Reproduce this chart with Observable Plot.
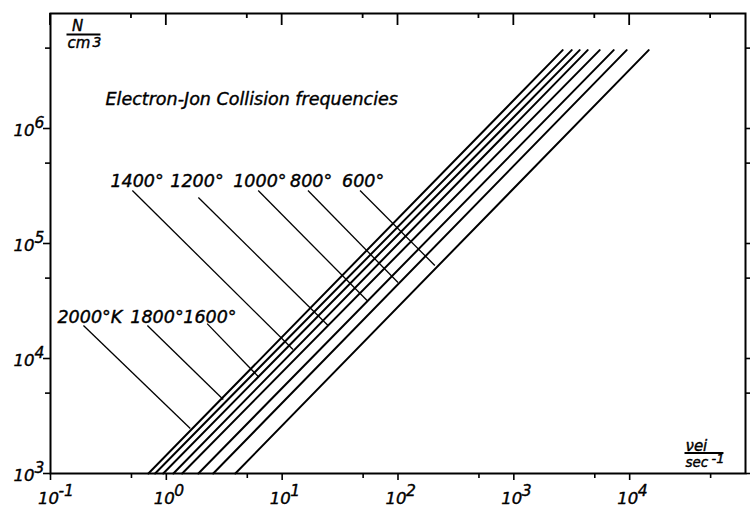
<!DOCTYPE html>
<html><head><meta charset="utf-8">
<script src="https://cdn.jsdelivr.net/npm/d3@7"></script>
<script src="https://cdn.jsdelivr.net/npm/@observablehq/plot@0.6"></script>
<style>
html,body{margin:0;padding:0;background:#fff;}
</style></head><body><div id="chart"></div>
<script>
// ---- data ----
const temperatures = ["2000°K", "1800°", "1600°", "1400°", "1200°", "1000°", "800°", "600°"];
const nLow = 1e3;       // N (cm^-3) where the lines start
const nHigh = 4.8e6;    // N (cm^-3) where the lines end
const nuAtNLow  = [0.70, 0.80, 0.94, 1.15, 1.37, 1.89, 2.54, 3.94];       // ν_ei (s^-1) at N = nLow
const nuAtNHigh = [2640, 3160, 3700, 4340, 5510, 7280, 9420, 14600];     // ν_ei (s^-1) at N = nHigh
// label anchors (ν, N) and leader lines (ν, N) -> (ν, N)
const labelNu = [0.1149, 0.489, 1.40, 0.329, 1.083, 3.78, 11.7, 32.9];
const labelN  = [20560, 20560, 20560, 307000, 307000, 307000, 307000, 307000];
const leaderNu1 = [0.1925, 0.686, 2.25, 0.509, 1.89, 6.21, 16.7, 47.0];
const leaderN1  = [19360, 19360, 20100, 289000, 251000, 289000, 289000, 289000];
const leaderNu2 = [1.61, 3.10, 6.21, 12.4, 24.9, 54.1, 100, 208];
const leaderN2  = [2460, 4400, 6970, 11970, 19360, 31900, 45800, 64400];
const xExponents = [-1, 0, 1, 2, 3, 4];
const yExponents = [3, 4, 5, 6];
const xMinorTicks = [0.5, 5, 50, 500, 5000, 50000];
const yMinorTicks = [5e3, 5e4, 5e5, 5e6];
const title = "Electron-Jon Collision frequencies";

// ---- tables built from the arrays ----
const lineRows = temperatures.flatMap((t, i) => [
  {t, nu: nuAtNLow[i], n: nLow},
  {t, nu: nuAtNHigh[i], n: nHigh}
]);
const leaders = temperatures.map((t, i) => ({t, nu1: leaderNu1[i], n1: leaderN1[i], nu2: leaderNu2[i], n2: leaderN2[i]}));
const labels = temperatures.map((t, i) => ({t, nu: labelNu[i], n: labelN[i]}));
const xMajor = xExponents.map(e => 10 ** e);
const yMajor = yExponents.map(e => 10 ** e);

const noText = {fill: "none", label: null};
const ink = {fill: "black", stroke: "black", strokeWidth: 0.4};
const font = "'DejaVu Sans', sans-serif";

const W = 750, H = 506, mT = 13, mB = 33, mL = 50, mR = 5;

const chart = Plot.plot({
  width: W,
  height: H,
  marginLeft: mL,
  marginRight: mR,
  marginTop: mT,
  marginBottom: mB,
  style: {fontFamily: font, fontStyle: "italic", background: "white", color: "black", overflow: "visible"},
  x: {type: "log", domain: [0.1, 1e5]},
  y: {type: "log", domain: [1e3, 1e7]},
  marks: [
    Plot.frame({strokeWidth: 2}),
    Plot.axisX(xMajor, {anchor: "bottom", tickSize: 7, strokeWidth: 1.6, ...noText}),
    Plot.axisX(xMinorTicks, {anchor: "bottom", tickSize: 5, strokeWidth: 1.6, ...noText}),
    Plot.axisY(yMajor, {anchor: "left", tickSize: 7, strokeWidth: 1.6, ...noText}),
    Plot.axisY(yMinorTicks, {anchor: "left", tickSize: 5, strokeWidth: 1.6, ...noText}),
    Plot.axisY([...yMajor, ...yMinorTicks], {anchor: "right", tickSize: 5, strokeWidth: 1.6, ...noText}),
    // tick labels 10^n
    Plot.text(xMajor, {x: d => d, frameAnchor: "bottom", text: () => "10", dx: -2, dy: 30, lineAnchor: "bottom", fontSize: 16.5, ...ink}),
    Plot.text(xExponents, {x: e => 10 ** e, frameAnchor: "bottom", text: e => String(e), textAnchor: "start", dx: 8, dy: 22, lineAnchor: "bottom", fontSize: 15.5, ...ink}),
    Plot.text(yMajor, {y: d => d, frameAnchor: "left", text: () => "10", textAnchor: "end", dx: -16, dy: 7, lineAnchor: "bottom", fontSize: 16.5, ...ink}),
    Plot.text(yExponents, {y: e => 10 ** e, frameAnchor: "left", text: e => String(e), textAnchor: "start", dx: -16, dy: -1, lineAnchor: "bottom", fontSize: 15.5, ...ink}),
    // curves
    Plot.line(lineRows, {x: "nu", y: "n", z: "t", strokeWidth: 2}),
    Plot.link(leaders, {x1: "nu1", y1: "n1", x2: "nu2", y2: "n2", strokeWidth: 1.3}),
    Plot.text(labels, {x: "nu", y: "n", text: "t", textAnchor: "start", lineAnchor: "bottom", fontSize: 17.5, ...ink}),
    // title and axis names
    Plot.text([title], {frameAnchor: "top-left", dx: 55, dy: 91, textAnchor: "start", lineAnchor: "bottom", fontSize: 17.5, ...ink}),
    Plot.text(["N"], {ariaDescription: "ylab-num", frameAnchor: "top-left", dx: 27, dy: 17, textAnchor: "middle", lineAnchor: "bottom", fontSize: 15, ...ink}),
    Plot.text(["cm"], {ariaDescription: "ylab-den", frameAnchor: "top-left", dx: 17, dy: 34, textAnchor: "start", lineAnchor: "bottom", fontSize: 15, ...ink}),
    Plot.text(["3"], {ariaDescription: "ylab-den", frameAnchor: "top-left", dx: 42, dy: 33, textAnchor: "start", lineAnchor: "bottom", fontSize: 14, ...ink}),
    Plot.text(["νei"], {ariaDescription: "xlab-num", frameAnchor: "bottom-right", dx: -60, dy: -23, textAnchor: "start", lineAnchor: "bottom", fontSize: 15, ...ink}),
    Plot.text(["sec"], {ariaDescription: "xlab-den", frameAnchor: "bottom-right", dx: -60, dy: -7, textAnchor: "start", lineAnchor: "bottom", fontSize: 13.5, ...ink}),
    Plot.text(["-1"], {ariaDescription: "xlab-den", frameAnchor: "bottom-right", dx: -34, dy: -11, textAnchor: "start", lineAnchor: "bottom", fontSize: 13, ...ink})
  ]
});
document.getElementById("chart").append(chart);

(function () {
  const svg = d3.select(chart);

  // inward ticks hanging down from the top edge, placed with Plot's own x scale
  const xs = chart.scale("x");
  const topTicks = svg.append("g").attr("aria-label", "top ticks").attr("stroke", "black").attr("stroke-width", 1.8);
  const addTicks = (values, len) => values.forEach(v => {
    const px = xs.apply(v);
    topTicks.append("line").attr("x1", px).attr("x2", px).attr("y1", mT).attr("y2", mT + len);
  });
  addTicks(xMajor, 12);
  addTicks(xMinorTicks, 5);

  // fraction bars between the axis-name numerators and denominators, from the rendered text boxes
  const root = chart.getBoundingClientRect();
  const box = n => {
    const r = n.getBoundingClientRect();
    return {x: r.left - root.left, y: r.top - root.top, w: r.width, h: r.height};
  };
  const pick = label => svg.selectAll("text").nodes()
    .filter(n => {
      const g = n.closest("g");
      return g && g.getAttribute("aria-description") === label;
    })
    .map(box);
  function bar(numLabel, denLabel) {
    const num = pick(numLabel);
    const den = pick(denLabel);
    if (!num.length || !den.length) return;
    const x1 = Math.min(...num.map(b => b.x), ...den.map(b => b.x)) - 1;
    const x2 = Math.max(...num.map(b => b.x + b.w), ...den.map(b => b.x + b.w)) - 1;
    const top = Math.max(...num.map(b => b.y + b.h * 0.8));
    const bottom = Math.min(...den.map(b => b.y + b.h * 0.3));
    const y = (top + bottom) / 2;
    svg.append("line").attr("x1", x1).attr("x2", x2).attr("y1", y).attr("y2", y)
      .attr("stroke", "black").attr("stroke-width", 2);
  }
  bar("ylab-num", "ylab-den");
  bar("xlab-num", "xlab-den");
})();
</script></body></html>
